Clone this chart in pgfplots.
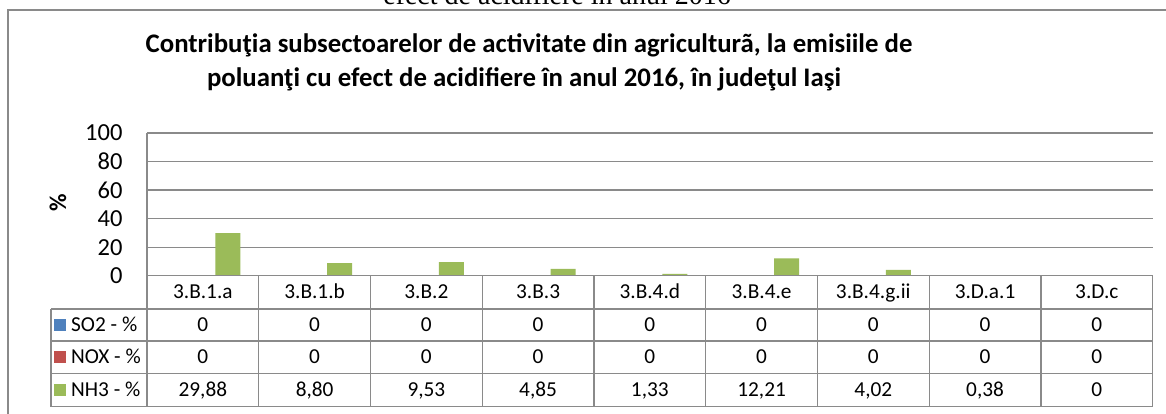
\documentclass[border=0pt]{standalone}
\usepackage{pgfplots}
\pgfplotsset{compat=1.18}
\usepackage{fontspec}
\setmainfont{Carlito}
\newfontfamily\serif{Liberation Serif}
\definecolor{so2}{HTML}{4F81BD}
\definecolor{nox}{HTML}{C0504D}
\definecolor{nh3}{HTML}{9BBB59}
\definecolor{linec}{HTML}{8A8A8A}

\begin{document}
\begin{tikzpicture}[x=1pt,y=1pt]
\clip (0,0) rectangle (1166,414);
\fill[white] (0,0) rectangle (1166,414);
% cut-off caption above the chart and the chart frame
\node[font=\serif\fontsize{28}{30}\selectfont, anchor=base] at (557,409) {efect de acidifiere în anul 2016};
\draw[linec, line width=1.5pt] (8,404) rectangle (1190,-20);
\node[font=\bfseries\fontsize{26.8}{30}\selectfont, anchor=base] at (529,361)
  {Contribuţia subsectoarelor de activitate din agriculturã, la emisiile de};
\node[font=\bfseries\fontsize{26.8}{30}\selectfont, anchor=base] at (524,327)
  {poluanţi cu efect de acidifiere în anul 2016, în judeţul Iaşi};

\begin{axis}[
  at={(147pt,138.3pt)}, anchor=south west, scale only axis,
  width=1005.7pt, height=142.7pt,
  xmin=0, xmax=9, ymin=0, ymax=100,
  xtick=\empty, ytick={0,20,...,100},
  axis line style={draw=none}, major tick length=0pt,
  ymajorgrids, major grid style={linec, line width=1.3pt},
  yticklabel style={font=\fontsize{24.5}{24.5}\selectfont, /pgf/number format/assume math mode=true, xshift=-21pt},
  clip=false,
]
\addplot[ybar, bar width=25pt, bar shift=-25pt, fill=so2, draw=none] coordinates
  {(0.5,0)(1.5,0)(2.5,0)(3.5,0)(4.5,0)(5.5,0)(6.5,0)(7.5,0)(8.5,0)};
\addplot[ybar, bar width=25pt, bar shift=0pt, fill=nox, draw=none] coordinates
  {(0.5,0)(1.5,0)(2.5,0)(3.5,0)(4.5,0)(5.5,0)(6.5,0)(7.5,0)(8.5,0)};
\addplot[ybar, bar width=25pt, bar shift=25pt, fill=nh3, draw=none] coordinates
  {(0.5,29.88)(1.5,8.80)(2.5,9.53)(3.5,4.85)(4.5,1.33)(5.5,12.21)(6.5,4.02)(7.5,0.38)(8.5,0)};
\draw[linec, line width=1.3pt] (axis cs:0,0) -- (axis cs:0,100);
\end{axis}

\node[rotate=90, font=\bfseries\fontsize{24}{24}\selectfont] at (58,211) {\%};

% data table
\begin{scope}[linec, line width=1.3pt]
  \draw (147,138.3) -- (1152.7,138.3);
  \foreach \yy in {105,73,40.7,7.3} \draw (51,\yy) -- (1152.7,\yy);
  \foreach \k in {0,...,9} \draw ({147+\k*111.74},138.3) -- ({147+\k*111.74},7.3);
  \draw (51,105) -- (51,7.3);
\end{scope}
\begin{scope}[font=\fontsize{21.3}{21.3}\selectfont, every node/.style={anchor=base, inner sep=0pt}]
  \foreach \lab [count=\i from 0] in {3.B.1.a,3.B.1.b,3.B.2,3.B.3,3.B.4.d,3.B.4.e,3.B.4.g.ii,3.D.a.1,3.D.c}
    \node at ({147+(\i+0.5)*111.74},115) {\lab};
  \foreach \v [count=\i from 0] in {0,0,0,0,0,0,0,0,0}
    \node at ({147+(\i+0.5)*111.74},82.3) {\v};
  \foreach \v [count=\i from 0] in {0,0,0,0,0,0,0,0,0}
    \node at ({147+(\i+0.5)*111.74},50.1) {\v};
  \foreach \v [count=\i from 0] in {29{,}88,8{,}80,9{,}53,4{,}85,1{,}33,12{,}21,4{,}02,0{,}38,0}
    \node at ({147+(\i+0.5)*111.74},17.3) {\v};
  \fill[so2] (54,83) rectangle (66,95);
  \fill[nox] (54,50.8) rectangle (66,62.8);
  \fill[nh3] (54,18) rectangle (66,30);
  \node[anchor=base west] at (71,82.3) {SO2 - \%};
  \node[anchor=base west] at (71,50.1) {NOX - \%};
  \node[anchor=base west] at (71,17.3) {NH3 - \%};
\end{scope}
\end{tikzpicture}
\end{document}
